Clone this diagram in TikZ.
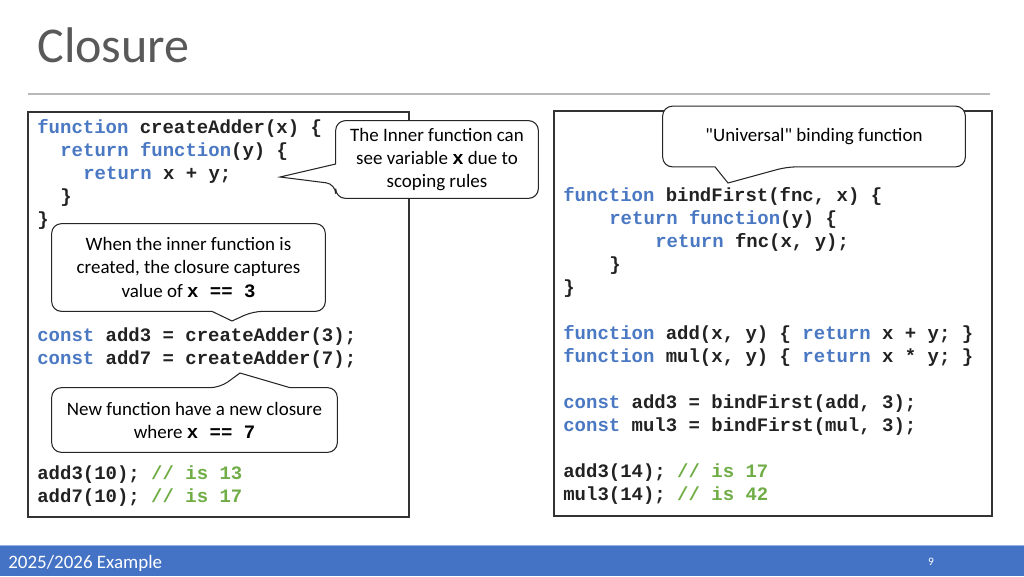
\documentclass[tikz,border=0pt]{standalone}
\usepackage{fontspec}
\setmainfont{Carlito}
\setmonofont{Liberation Mono}
\usetikzlibrary{backgrounds}
\definecolor{kwblue}{HTML}{4A78C2}
\definecolor{cmgreen}{HTML}{70AD47}
\definecolor{barblue}{HTML}{4472C4}
\definecolor{ink}{HTML}{222222}
\newcommand{\kw}[1]{\textcolor{kwblue}{#1}}
\newcommand{\cm}[1]{\textcolor{cmgreen}{#1}}
\newcommand{\cx}[1]{\texttt{\textbf{#1}}}
\frenchspacing
\begin{document}
\begin{tikzpicture}[x=0.02cm,y=-0.02cm,line join=round,
    code/.style={anchor=base west,inner sep=0pt,text=ink,font=\fontsize{10.8}{13}\selectfont\ttfamily\bfseries},
    note/.style={inner sep=0pt,align=center,font=\fontsize{10.8}{13.1}\selectfont},
    bubble/.style={draw=black!85,line width=0.6pt,fill=white,rounded corners=5.5pt},
    frame/.style={draw=black!80,line width=0.6pt}]
    \useasboundingbox (0,0) rectangle (1024,576);
    % title and footer
    \node[anchor=base west,inner sep=0pt,text=black!65,font=\fontsize{28.5}{30}\selectfont] (title) at (37,62) {Closure};
    \draw[black!28,line width=0.6pt] (28,94) -- (990,94);
    \fill[barblue] (0,545) rectangle (1024,576);
    \draw[barblue!55,line width=0.5pt] (0,545) -- (1024,545);
    \node[anchor=base west,inner sep=0pt,text=white,font=\fontsize{10.8}{12}\selectfont] (foot) at (8,568) {2025/2026 Example};
    \node[inner sep=0pt,text=white,font=\fontsize{6.5}{7}\selectfont] (pageno) at (931,562) {9};
    \begin{scope}[on background layer]
        \draw[frame] (28,112) rectangle (409,517);
        \draw[frame] (554,111) rectangle (992,516);
    \end{scope}
    % left listing
    \node[code] (l1) at (37,133) {\kw{function} createAdder(x) \{};
    \node[code] (l2) at (60,156) {\kw{return} \kw{function}(y) \{};
    \node[code] (l3) at (83,179) {\kw{return} x + y;};
    \node[code] (l4) at (60,202) {\}};
    \node[code] (l5) at (37,225) {\}};
    \node[code] (l6) at (37,341) {\kw{const} add3 = createAdder(3);};
    \node[code] (l7) at (37,364) {\kw{const} add7 = createAdder(7);};
    \node[code] (l8) at (37,479) {add3(10); \cm{// is 13}};
    \node[code] (l9) at (37,502) {add7(10); \cm{// is 17}};
    % right listing
    \node[code] (r1) at (563,201) {\kw{function} bindFirst(fnc, x) \{};
    \node[code] (r2) at (609,224) {\kw{return} \kw{function}(y) \{};
    \node[code] (r3) at (655,247) {\kw{return} fnc(x, y);};
    \node[code] (r4) at (609,270) {\}};
    \node[code] (r5) at (563,293) {\}};
    \node[code] (r6) at (563,339) {\kw{function} add(x, y) \{ \kw{return} x + y; \}};
    \node[code] (r7) at (563,362) {\kw{function} mul(x, y) \{ \kw{return} x * y; \}};
    \node[code] (r8) at (563,408) {\kw{const} add3 = bindFirst(add, 3);};
    \node[code] (r9) at (563,431) {\kw{const} mul3 = bindFirst(mul, 3);};
    \node[code] (r10) at (563,477) {add3(14); \cm{// is 17}};
    \node[code] (r11) at (563,500) {mul3(14); \cm{// is 42}};
    % callouts
    \node[note,minimum width=4.04cm,minimum height=1.54cm] (scopeNote) at (437,159.5)
        {The Inner function can\\see variable \cx{x} due to\\scoping rules};
    \node[note,minimum width=5.46cm,minimum height=1.74cm] (captureNote) at (188.5,267.5)
        {When the inner function is\\created, the closure captures\\value of \cx{x == 3}};
    \node[note,minimum width=5.7cm,minimum height=1.28cm] (newNote) at (194.5,420)
        {New function have a new closure\\where \cx{x == 7}};
    \node[note,minimum width=6.04cm,minimum height=1.2cm] (bindNote) at (814,136.5)
        {\textquotedbl Universal\textquotedbl{} binding function};
    \coordinate (tipScope) at (280,177);
    \coordinate (tipCapture) at (232,321);
    \coordinate (tipNew) at (240,373);
    \coordinate (tipBind) at (728,183);
    \begin{scope}[on background layer]
        \draw[bubble] (scopeNote.north) -- (scopeNote.north east) -- (scopeNote.south east) -- (scopeNote.south west)
            -- (scopeNote.west |- 0,184) [sharp corners] -- (tipScope) -- (scopeNote.west |- 0,164)
            [rounded corners=5.5pt] -- (scopeNote.north west) -- cycle;
        \draw[bubble] (captureNote.north) -- (captureNote.north east) -- (captureNote.south east)
            -- (253,0 |- captureNote.south) [sharp corners] -- (tipCapture) -- (212,0 |- captureNote.south)
            [rounded corners=5.5pt] -- (captureNote.south west) -- (captureNote.north west) -- cycle;
        \draw[bubble] (newNote.south) -- (newNote.south west) -- (newNote.north west)
            -- (220,0 |- newNote.north) [sharp corners] -- (tipNew) -- (290,0 |- newNote.north)
            [rounded corners=5.5pt] -- (newNote.north east) -- (newNote.south east) -- cycle;
        \draw[bubble] (bindNote.north) -- (bindNote.north east) -- (bindNote.south east)
            -- (787,0 |- bindNote.south) [sharp corners] -- (tipBind) -- (715,0 |- bindNote.south)
            [rounded corners=5.5pt] -- (bindNote.south west) -- (bindNote.north west) -- cycle;
    \end{scope}
\end{tikzpicture}
\end{document}
